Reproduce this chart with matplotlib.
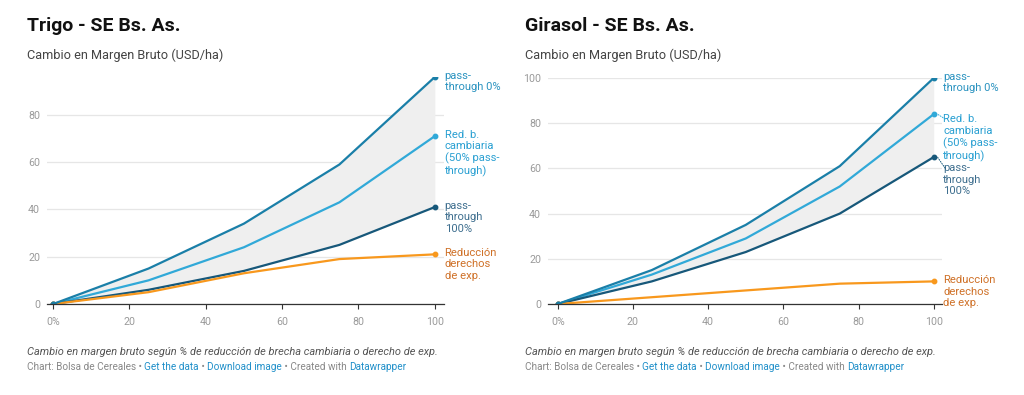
import numpy as np
import matplotlib.pyplot as plt

plt.rcParams['font.family'] = ['Roboto', 'DejaVu Sans']

x = [0, 25, 50, 75, 100]

# Trigo
trigo_pt0 = [0, 15, 34, 59, 96]
trigo_red = [0, 10, 24, 43, 71]
trigo_pt100 = [0, 6, 14, 25, 41]
trigo_der = [0, 5, 13, 19, 21]

# Girasol
gira_pt0 = [0, 15, 35, 61, 100]
gira_red = [0, 13, 29, 52, 84]
gira_pt100 = [0, 10, 23, 40, 65]
gira_der = [0, 3, 6, 9, 10]

labels = ["pass-\nthrough 0%", "Red. b.\ncambiaria\n(50% pass-\nthrough)",
          "pass-\nthrough\n100%", "Reducción\nderechos\nde exp."]
line_colors = ['#1a7fa8', '#31a9d8', '#17587a', '#f8981d']
text_colors = ['#2b93c0', '#2aa0d2', '#3f6f8f', '#cf7128']

fig = plt.figure(figsize=(10.24, 3.95), dpi=100)
W, H = 1024, 395


def panel(rect, xlim, ylim, yticks, series, title, label_shift, tx):
    ax = fig.add_axes([rect[0] / W, (H - rect[3]) / H, (rect[2] - rect[0]) / W,
                       (rect[3] - rect[1]) / H])
    ax.fill_between(x, series[0], series[2], color='#efefef', zorder=1, lw=0)
    for i, s in enumerate(series):
        ax.plot(x, s, color=line_colors[i], lw=1.6, zorder=3 + (i == 0),
                marker='o', markersize=3.2, markevery=[0, -1],
                solid_capstyle='round')
        dy = label_shift[i]
        ax.annotate(labels[i], xy=(100, s[-1]), xytext=(7, 4.5 - dy),
                    textcoords='offset points', va='top', ha='left',
                    fontsize=8.1, color=text_colors[i], linespacing=1.17,
                    annotation_clip=False)
        if dy > 0:
            ax.annotate('', xy=(101, s[-1]), xytext=(5.5, -dy + 1),
                        textcoords='offset points', annotation_clip=False,
                        arrowprops=dict(arrowstyle='-', ls=(0, (1, 1.5)),
                                        color=line_colors[i], lw=0.7,
                                        shrinkA=0, shrinkB=0))
    ax.set_xlim(*xlim)
    ax.set_ylim(*ylim)
    ax.set_yticks(yticks)
    ax.set_xticks([0, 20, 40, 60, 80, 100])
    ax.set_xticklabels(['0%', '20', '40', '60', '80', '100'])
    ax.grid(axis='y', color='#e6e6e6', lw=0.9, zorder=0)
    ax.set_axisbelow(True)
    for sp in ['top', 'right', 'left']:
        ax.spines[sp].set_visible(False)
    ax.spines['bottom'].set_color('#333333')
    ax.spines['bottom'].set_linewidth(0.9)
    ax.spines['bottom'].set_zorder(5)
    ax.tick_params(axis='y', length=0, pad=5, labelsize=7.7, labelcolor='#9a9a9a')
    ax.tick_params(axis='x', length=3.5, width=0.8, color='#333333', pad=6,
                   labelsize=7.7, labelcolor='#9a9a9a')
    ax.patch.set_alpha(0)
    fig.text(tx / W, 1 - 26 / H, title, fontsize=14, fontweight='bold',
             color='#111111', va='center', ha='left')
    fig.text(tx / W, 1 - 55 / H, "Cambio en Margen Bruto (USD/ha)", fontsize=9.2,
             color='#444444', va='center', ha='left')
    fig.text(tx / W, 1 - 352 / H,
             "Cambio en margen bruto según % de reducción de brecha cambiaria o derecho de exp.",
             fontsize=7.95, style='italic', color='#555555', va='center', ha='left')
    # source line with coloured links
    parts = [("Chart: Bolsa de Cereales • ", '#888888'), ("Get the data", '#1f8fc9'),
             (" • ", '#888888'), ("Download image", '#1f8fc9'),
             (" • Created with ", '#888888'), ("Datawrapper", '#1f8fc9')]
    renderer = fig.canvas.get_renderer()
    px = tx
    for txt, col in parts:
        t = fig.text(px / W, 1 - 367 / H, txt, fontsize=7.2, color=col,
                     va='center', ha='left')
        bb = t.get_window_extent(renderer=renderer)
        px += bb.width
    return ax


panel((47, 77, 444, 304), (-1.6, 102.4), (0, 96), [0, 20, 40, 60, 80],
      [trigo_pt0, trigo_red, trigo_pt100, trigo_der], "Trigo - SE Bs. As.",
      [0, 0, 0, 0], 27)
panel((548, 78, 942, 304), (-2.6, 102.2), (0, 100), [0, 20, 40, 60, 80, 100],
      [gira_pt0, gira_red, gira_pt100, gira_der], "Girasol - SE Bs. As.",
      [0, 4.5, 9, 0], 525)

fig.savefig('out.png', dpi=100, facecolor='white')
